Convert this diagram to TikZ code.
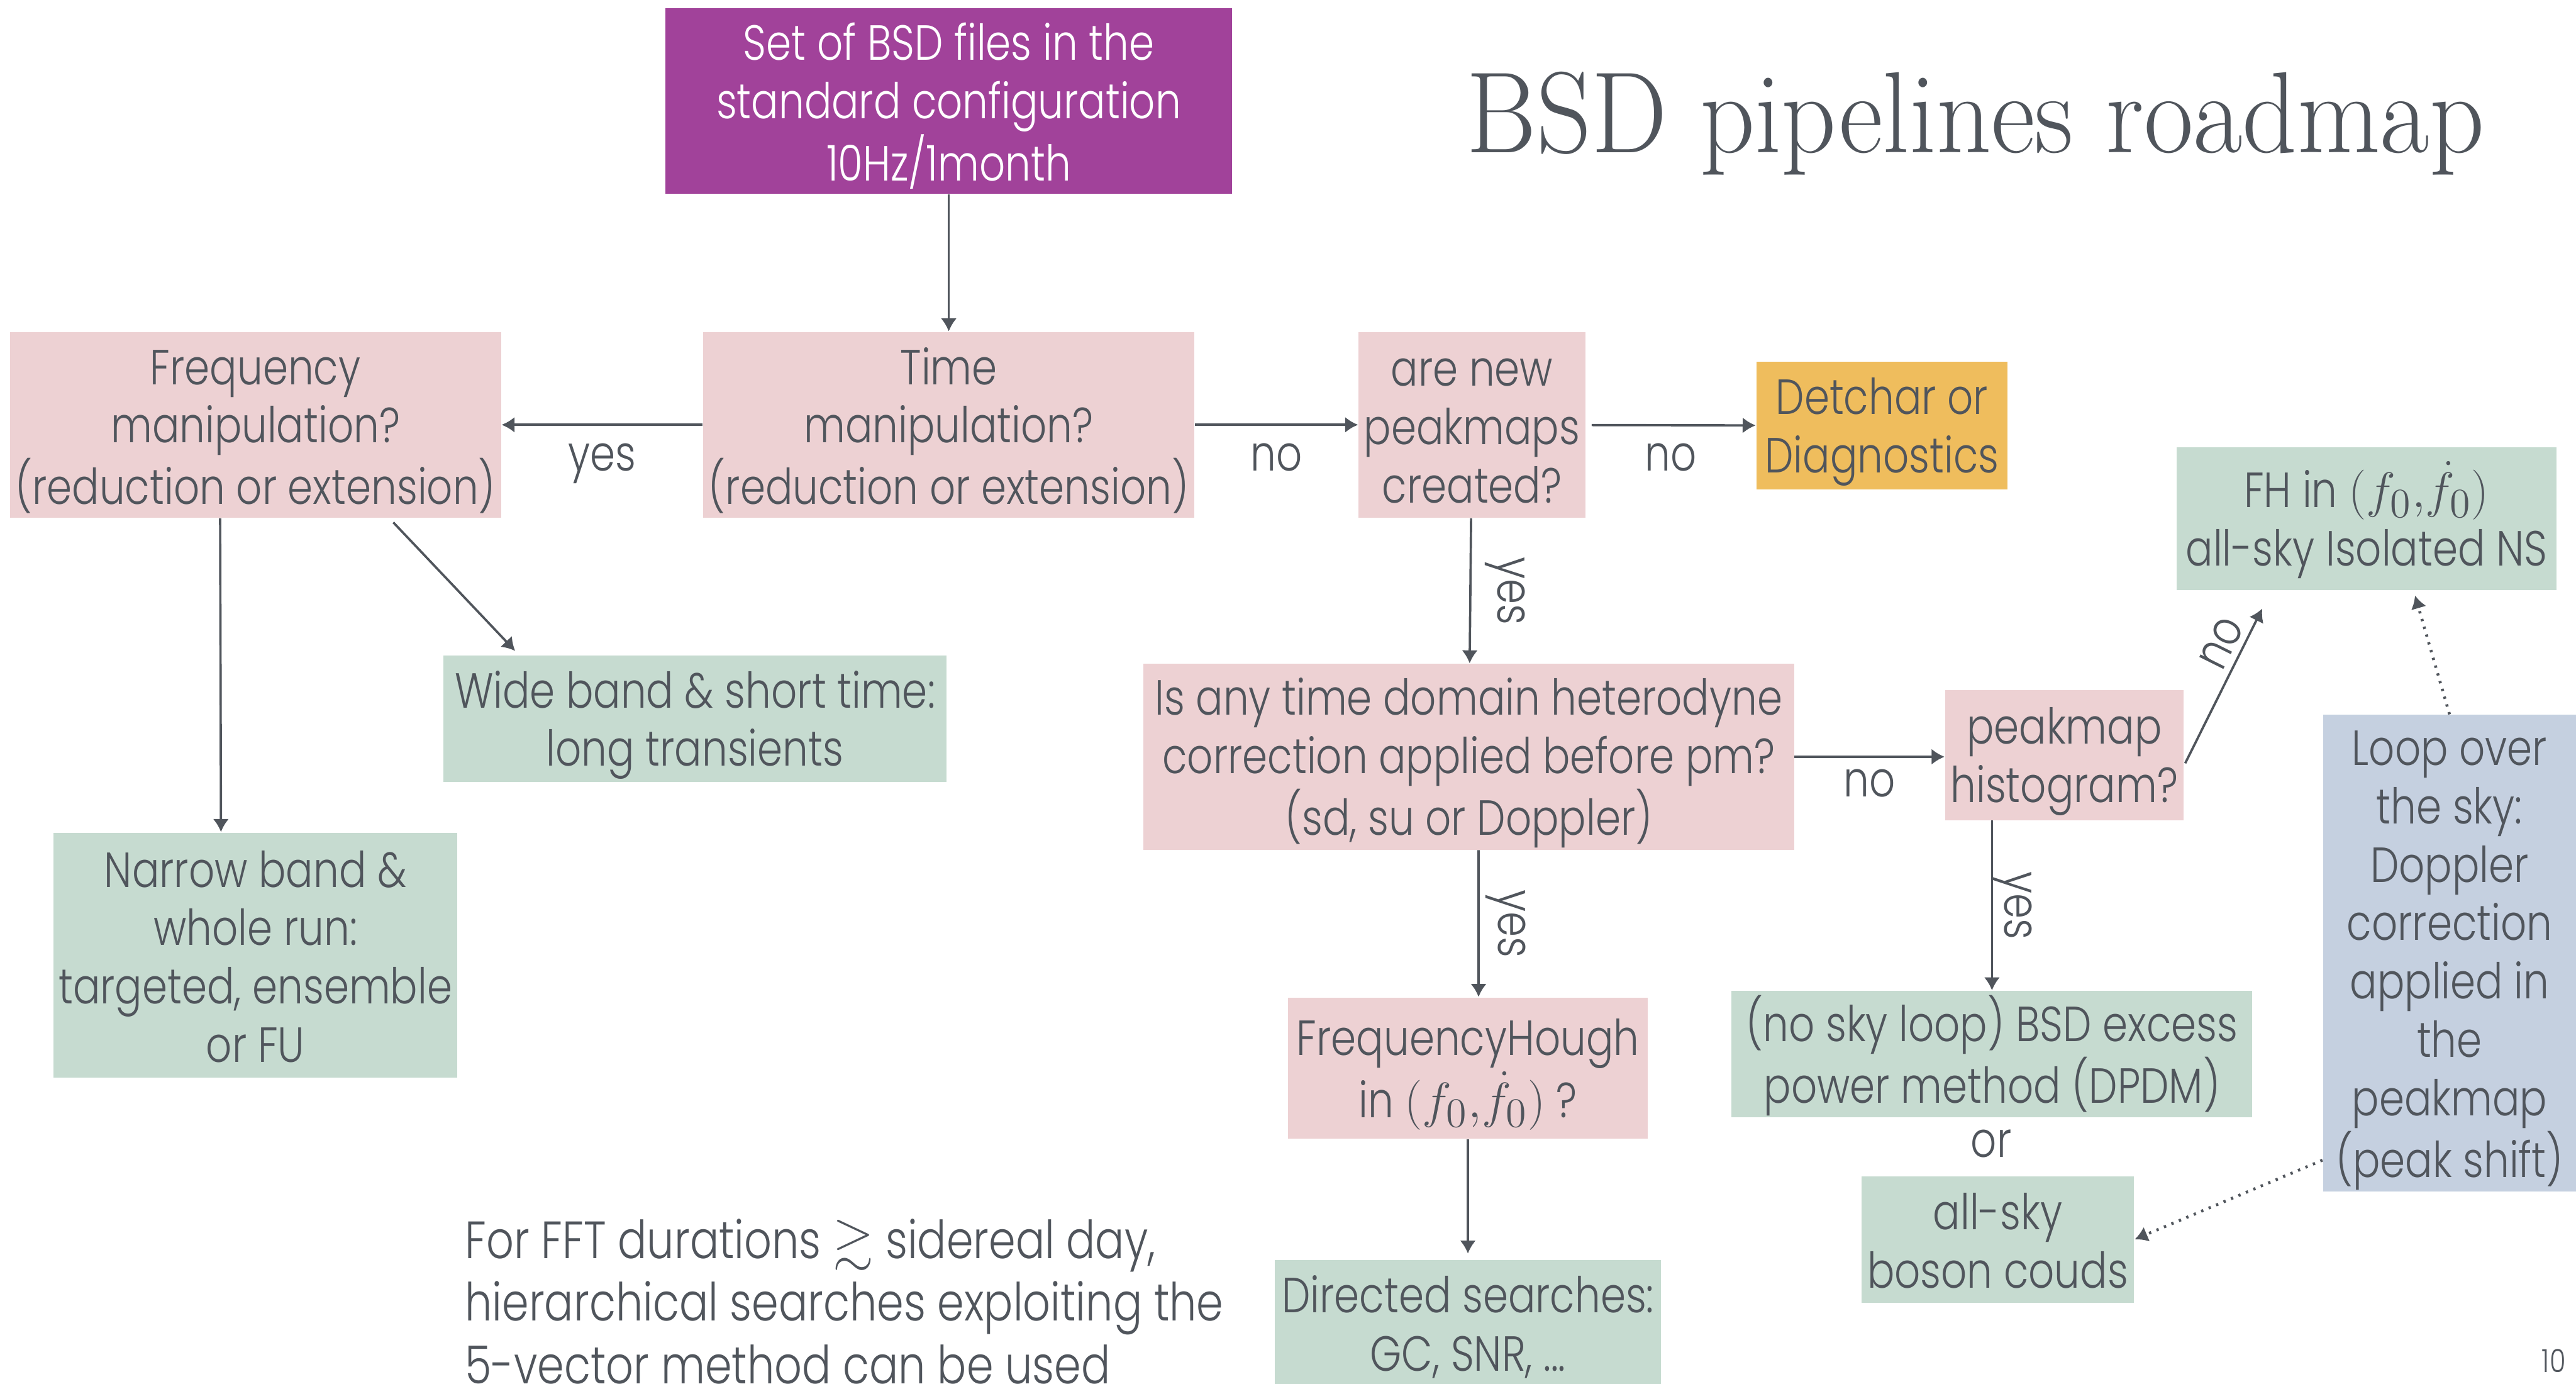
\documentclass[tikz,border=0pt]{standalone}
\usepackage{amssymb}
\usepackage[no-math]{fontspec}
\setmainfont{Poppins}[UprightFont={* Light},FakeStretch=0.82]
\newfontfamily\titlefont{Latin Modern Roman}[FakeStretch=0.93]
\usepackage{tikz}
\usetikzlibrary{arrows.meta,positioning}

\definecolor{bsdpurple}{HTML}{A1429A}
\definecolor{bsdpink}{HTML}{EDD1D3}
\definecolor{bsdgreen}{HTML}{C6DBD0}
\definecolor{bsdorange}{HTML}{EFBD5D}
\definecolor{bsdblue}{HTML}{C5D0E0}
\definecolor{bsdgrey}{HTML}{50555C}

\newcommand{\fpair}{{\fontsize{19}{20}\selectfont$(f_0,\!\dot{f}_0)$}}
\newcommand{\topgap}{\rule{0pt}{17pt}}

\begin{document}
\begin{tikzpicture}[x=0.02cm,y=-0.02cm,font=\fontsize{17.1}{20.2}\selectfont]
      \tikzset{boxtext/.style={rectangle,inner sep=0pt,align=center,
          execute at end node={\rule[-3.4pt]{0pt}{3.4pt}}}}
      \tikzset{startbox/.style={boxtext,fill=bsdpurple,text=white}}
      \tikzset{questbox/.style={boxtext,fill=bsdpink,text=bsdgrey}}
      \tikzset{searchbox/.style={boxtext,fill=bsdgreen,text=bsdgrey}}
      \tikzset{diagbox/.style={boxtext,fill=bsdorange,text=bsdgrey}}
      \tikzset{loopbox/.style={boxtext,fill=bsdblue,text=bsdgrey}}
      \tikzset{lbl/.style={text=bsdgrey,inner sep=1pt}}
      \tikzset{flow/.style={draw=bsdgrey,line width=0.8pt,-{Latex[length=4.5pt,width=5.5pt]}}}
      \tikzset{skyflow/.style={flow,dotted,line width=1pt}}

      \useasboundingbox (0,0) rectangle (1568,842);

      % title and notes
      \node[lbl,anchor=base,font=\titlefont\fontsize{40}{46}\selectfont] (title) at (1202.5,93) {BSD pipelines roadmap};
      \node[lbl,anchor=west,align=left,font=\fontsize{18.2}{21.6}\selectfont] (note) at (281,792) {For FFT durations $\gtrsim$ sidereal day,\\hierarchical searches exploiting the\\5-vector method can be used};
      \node[lbl,font=\fontsize{11}{12}\selectfont] (page) at (1554.5,828) {10};

      % boxes
      \node[startbox,minimum width=6.9cm,minimum height=2.26cm] (bsd) at (577.5,61.5) {\topgap Set of BSD files in the\\standard configuration\\10Hz/1month};
      \node[questbox,minimum width=5.98cm,minimum height=2.26cm] (time) at (577.5,258.5) {\topgap Time\\manipulation?\\(reduction or extension)};
      \node[questbox,minimum width=5.98cm,minimum height=2.26cm] (freq) at (155.5,258.5) {\topgap Frequency\\manipulation?\\(reduction or extension)};
      \node[questbox,minimum width=2.76cm,minimum height=2.26cm] (newpm) at (896,258.5) {\topgap are new\\peakmaps\\created?};
      \node[diagbox,minimum width=3.06cm,minimum height=1.56cm] (detchar) at (1145.5,259) {\topgap Detchar or\\Diagnostics};
      \node[searchbox,minimum width=6.12cm,minimum height=1.54cm] (wide) at (423,437.5) {\topgap Wide band \& short time:\\long transients};
      \node[searchbox,minimum width=4.92cm,minimum height=2.98cm] (narrow) [below=3.82cm of freq] {\topgap Narrow band \&\\whole run:\\targeted, ensemble\\or FU};
      \node[questbox,minimum width=7.92cm,minimum height=2.26cm] (hetero) at (894,460.5) {\topgap Is any time domain heterodyne\\correction applied before pm?\\(sd, su or Doppler)};
      \node[questbox,minimum width=2.9cm,minimum height=1.58cm] (hist) at (1256.5,459.5) {\topgap peakmap\\histogram?};
      \node[searchbox,minimum width=4.62cm,minimum height=1.74cm] (fhsky) at (1440.5,315.5) {\topgap FH in \fpair\\all-sky Isolated NS};
      \node[loopbox,minimum width=3.08cm,minimum height=5.8cm] (loop) at (1491,580) {\topgap Loop over\\the sky:\\Doppler\\correction\\applied in\\the\\peakmap\\(peak shift)};
      \node[questbox,minimum width=4.38cm,minimum height=1.72cm] (fhough) at (893.5,650) {\topgap FrequencyHough\\in \fpair\ ?};
      \node[searchbox,minimum width=4.7cm,minimum height=1.52cm] (directed) [below=1.46cm of fhough] {\topgap Directed searches:\\GC, SNR, ...};
      \node[searchbox,minimum width=6.34cm,minimum height=1.54cm] (excess) at (1212.5,641.5) {\topgap (no sky loop) BSD excess\\power method (DPDM)};
      \node[lbl] (or) at (1212,696) {or};
      \node[searchbox,minimum width=3.32cm,minimum height=1.54cm] (boson) [below=0.7cm of excess,xshift=0.07cm] {\topgap all-sky\\boson couds};

      % connectors
      \draw[flow] (bsd) -- (time);
      \draw[flow] (time) -- node[lbl,below=5pt] {yes} (freq);
      \draw[flow] (time) -- node[lbl,below=5pt] {no} (newpm);
      \draw[flow,shorten <=2pt] (newpm) -- node[lbl,below=5pt] {no} (detchar);
      \draw[flow] ([xshift=-0.43cm]freq.south) -- ([xshift=-0.42cm]narrow.north);
      \draw[flow,shorten <=2pt,shorten >=2pt] ([xshift=1.63cm]freq.south) -- ([xshift=-2.14cm]wide.north);
      \draw[flow] (newpm) -- node[lbl,xshift=0.42cm,rotate=-90] {yes} (hetero);
      \draw[flow] (hetero) -- node[lbl,below=3pt] {no} (hist.west |- hetero);
      \draw[flow] ([xshift=0.12cm]hetero.south) -- node[lbl,xshift=0.33cm,rotate=-90] {yes} ([xshift=0.13cm]fhough.north);
      \draw[flow,shorten >=2pt] (fhough) -- (directed);
      \draw[flow] (hist.south -| excess.north) -- node[lbl,xshift=0.24cm,rotate=-90] {yes} (excess.north);
      \draw[flow,shorten <=1pt] ([yshift=-0.13cm]hist.east) -- node[lbl,pos=0.72,sloped,above=1pt] {no} ([xshift=-1.27cm,yshift=-0.22cm]fhsky.south);
      \draw[skyflow] (loop.north) -- ([xshift=0.59cm,yshift=-0.06cm]fhsky.south);
      \draw[skyflow] ([yshift=-2.52cm]loop.west) -- (boson.east);

\end{tikzpicture}
\end{document}
